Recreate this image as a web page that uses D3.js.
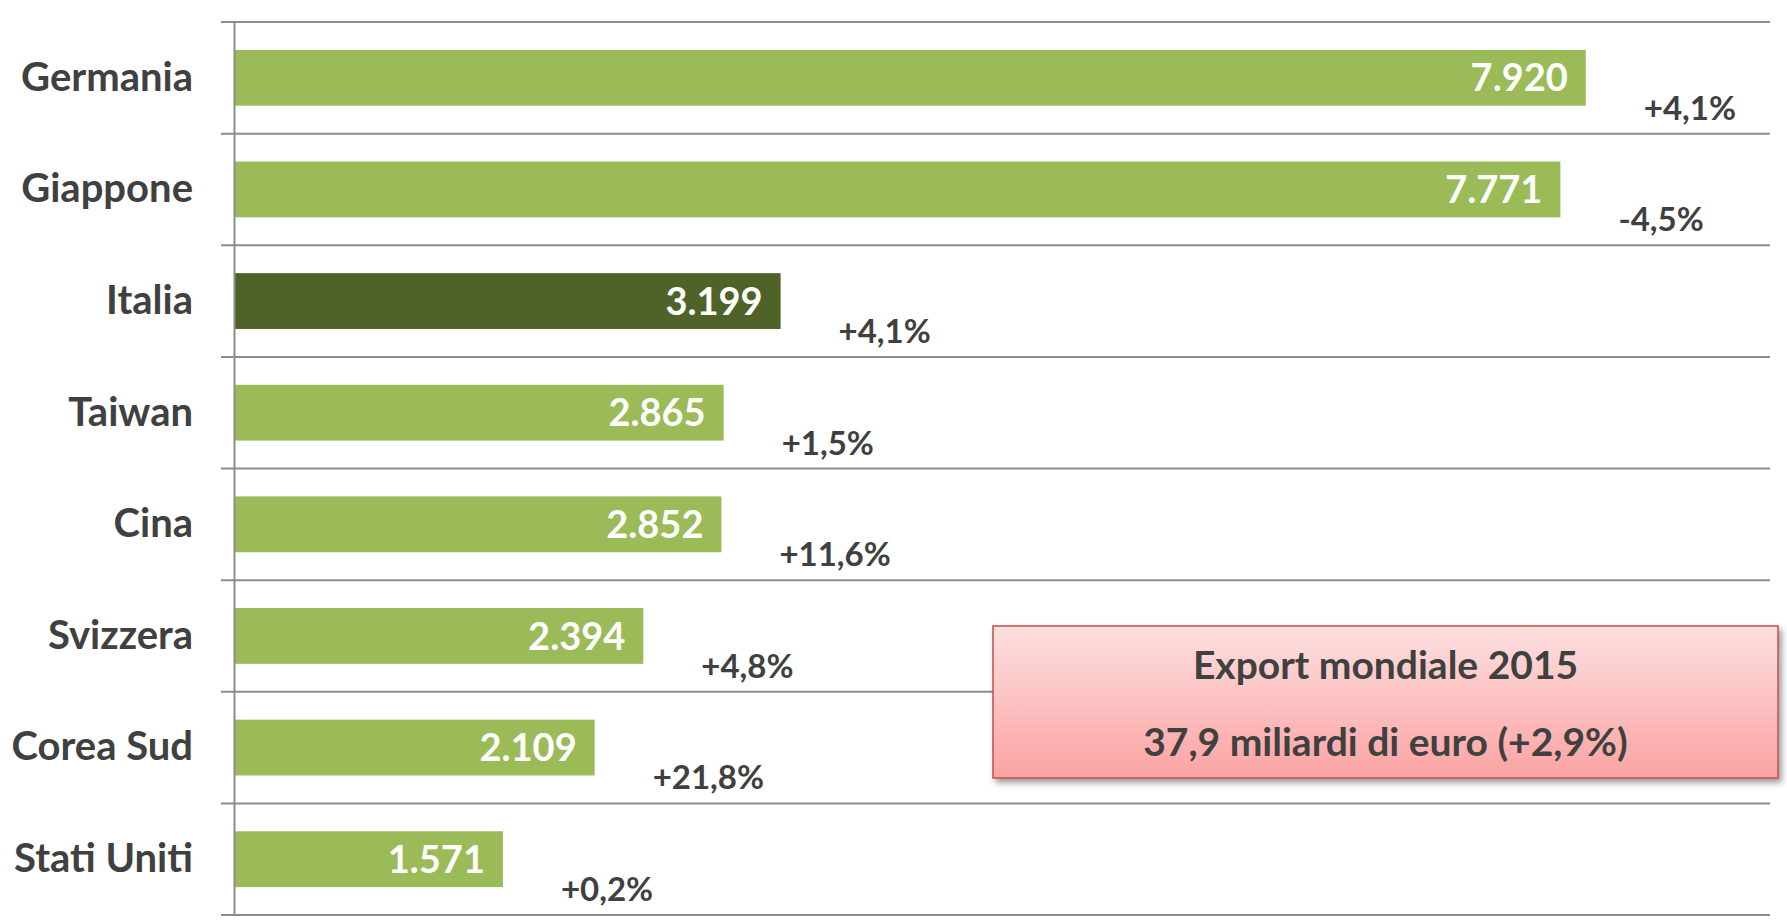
<!DOCTYPE html>
<html>
<head>
<meta charset="utf-8">
<script src="https://cdn.jsdelivr.net/npm/d3@7"></script>
<style>
  body { margin: 0; background: #fff; }
  text { font-family: Lato, "Open Sans", sans-serif; font-weight: 700; }
</style>
</head>
<body>
<div id="container"></div>
<script>
/* DATA */
const countries = ["Germania", "Giappone", "Italia", "Taiwan", "Cina", "Svizzera", "Corea Sud", "Stati Uniti"];
const exportValues = [7920, 7771, 3199, 2865, 2852, 2394, 2109, 1571];
const changes = ["+4,1%", "-4,5%", "+4,1%", "+1,5%", "+11,6%", "+4,8%", "+21,8%", "+0,2%"];
const highlight = "Italia";
const boxLines = ["Export mondiale 2015", "37,9 miliardi di euro (+2,9%)"];

/* CONSTANTS */
const width = 1787,
  height = 923,
  margin = { top: 22, bottom: 8, left: 235, right: 17 };

const data = countries.map((c, i) => ({ country: c, value: exportValues[i], change: changes[i] }));

/* SCALES */
const xScale = d3.scaleLinear()
  .domain([0, 9000])
  .range([margin.left, width - margin.right]);

const yScale = d3.scaleBand()
  .domain(countries)
  .range([margin.top, height - margin.bottom])
  .paddingInner(0.5)
  .paddingOuter(0.25);

const svg = d3.select("#container")
  .append("svg")
  .attr("width", width)
  .attr("height", height);

// shadow + gradient for the note box
const defs = svg.append("defs");
const grad = defs.append("linearGradient")
  .attr("id", "boxGrad")
  .attr("x1", 0).attr("y1", 0).attr("x2", 0).attr("y2", 1);
grad.append("stop").attr("offset", "0%").attr("stop-color", "#fde0e0");
grad.append("stop").attr("offset", "100%").attr("stop-color", "#fba3a2");
defs.append("filter")
  .attr("id", "shadow")
  .attr("x", "-5%").attr("y", "-10%").attr("width", "115%").attr("height", "130%")
  .append("feDropShadow")
  .attr("dx", 3).attr("dy", 4).attr("stdDeviation", 3)
  .attr("flood-color", "#000").attr("flood-opacity", 0.4);

/* GRID (category boundaries) */
const step = yScale.step();
const bounds = d3.range(countries.length + 1).map(i => yScale.range()[0] + i * step);
svg.append("g")
  .selectAll("line")
  .data(bounds)
  .join("line")
  .attr("x1", margin.left - 14)
  .attr("x2", width - margin.right)
  .attr("y1", d => d)
  .attr("y2", d => d)
  .attr("stroke", "#8c8c8c")
  .attr("stroke-width", 2);

/* BARS */
svg.append("g")
  .selectAll("rect")
  .data(data)
  .join("rect")
  .attr("x", xScale(0))
  .attr("y", d => yScale(d.country))
  .attr("width", d => xScale(d.value) - xScale(0))
  .attr("height", yScale.bandwidth())
  .attr("fill", d => d.country === highlight ? "#4f6228" : "#9bbb59");

// vertical axis line
svg.append("line")
  .attr("x1", xScale(0) - 0.5).attr("x2", xScale(0) - 0.5)
  .attr("y1", bounds[0]).attr("y2", bounds[bounds.length - 1])
  .attr("stroke", "#8c8c8c")
  .attr("stroke-width", 2);

/* AXIS LABELS */
const yAxis = d3.axisLeft(yScale).tickSize(0).tickPadding(42);
const gy = svg.append("g")
  .attr("transform", `translate(${xScale(0)},0)`)
  .call(yAxis);
gy.select(".domain").remove();
gy.selectAll("text")
  .attr("fill", "#404040")
  .style("font-size", "40px")
  .style("font-family", "Lato, 'Open Sans', sans-serif")
  .style("font-weight", 700);

/* VALUE LABELS */
const fmt = d3.formatLocale({ decimal: ",", thousands: ".", grouping: [3], currency: ["", "€"] }).format(",d");
svg.append("g")
  .selectAll("text")
  .data(data)
  .join("text")
  .attr("x", d => xScale(d.value) - 18)
  .attr("y", d => yScale(d.country) + yScale.bandwidth() / 2)
  .attr("dy", "0.36em")
  .attr("text-anchor", "end")
  .attr("fill", "#fff")
  .style("font-size", "38px")
  .text(d => fmt(d.value));

/* CHANGE LABELS */
svg.append("g")
  .selectAll("text")
  .data(data)
  .join("text")
  .attr("x", d => xScale(d.value) + 58)
  .attr("y", d => yScale(d.country) + yScale.bandwidth() / 2 + 30)
  .attr("dy", "0.36em")
  .attr("fill", "#404040")
  .style("font-size", "33px")
  .text(d => d.change);

/* NOTE BOX */
const box = { x: 993, y: 626, w: 785, h: 152 };
const note = svg.append("g");
note.append("rect")
  .attr("x", box.x).attr("y", box.y)
  .attr("width", box.w).attr("height", box.h)
  .attr("fill", "url(#boxGrad)")
  .attr("stroke", "#c0504d")
  .attr("stroke-width", 1.5)
  .attr("filter", "url(#shadow)");
note.selectAll("text")
  .data(boxLines)
  .join("text")
  .attr("x", box.x + box.w / 2)
  .attr("y", (d, i) => box.y + 39 + i * 77)
  .attr("dy", "0.36em")
  .attr("text-anchor", "middle")
  .attr("fill", "#404040")
  .style("font-size", "39px")
  .text(d => d);
</script>
</body>
</html>
